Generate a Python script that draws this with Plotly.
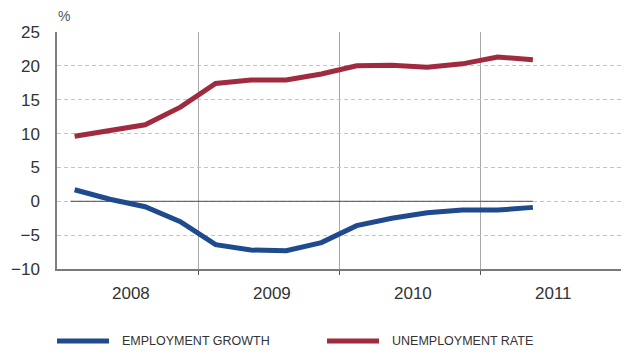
import plotly.graph_objects as go

# Quarterly series, 2008 Q1 – 2011 Q2 (%)
years = [2008, 2009, 2010, 2011]
quarters_per_year = 4
employment_growth = [1.7, 0.3, -0.8, -3.0, -6.4, -7.2, -7.3, -6.1,
                     -3.6, -2.5, -1.7, -1.3, -1.3, -0.9]
unemployment_rate = [9.6, 10.4, 11.3, 13.9, 17.4, 17.9, 17.9, 18.8,
                     20.0, 20.1, 19.8, 20.3, 21.3, 20.9]
series_names = ["EMPLOYMENT GROWTH", "UNEMPLOYMENT RATE"]
y_ticks = [-10, -5, 0, 5, 10, 15, 20, 25]

BLUE = "#1f4b8e"
RED = "#a02b3f"
TEXT = "#333333"

# quarter midpoints on a continuous year scale
n = len(employment_growth)
x_q = [years[0] + (i + 0.5) / quarters_per_year for i in range(n)]

fig = go.Figure()

# zero reference line across the data span
fig.add_trace(go.Scatter(x=[x_q[0] - 0.03, x_q[-1]], y=[0, 0], mode="lines",
                         line=dict(color="#4a4a4a", width=1),
                         hoverinfo="skip", showlegend=False))

fig.add_trace(go.Scatter(x=x_q, y=unemployment_rate, mode="lines",
                         name=series_names[1],
                         line=dict(color=RED, width=5), showlegend=False))
fig.add_trace(go.Scatter(x=x_q, y=employment_growth, mode="lines",
                         name=series_names[0],
                         line=dict(color=BLUE, width=5), showlegend=False))

fig.update_layout(
    width=621, height=353,
    margin=dict(l=57, r=0, t=32, b=84),
    paper_bgcolor="white", plot_bgcolor="white",
    font=dict(family="Liberation Sans, Arial, sans-serif", color=TEXT),
    showlegend=False,
)

fig.update_xaxes(
    range=[years[0], years[-1] + 1],
    tickvals=years[1:], showticklabels=False,
    ticks="outside", ticklen=4, tickcolor="#555555", tickwidth=1,
    showgrid=True, gridcolor="#a8a8a8", gridwidth=1,
    showline=True, linecolor="#7a7a7a", linewidth=2,
    zeroline=False, fixedrange=True,
)
fig.update_yaxes(
    range=[y_ticks[0], y_ticks[-1]],
    tickvals=y_ticks, ticks="", ticklabelstandoff=12,
    tickfont=dict(size=17, color=TEXT),
    showgrid=True, gridcolor="#c4c4c4", gridwidth=1, griddash="4px,3px",
    showline=True, linecolor="#7f7f7f", linewidth=1.5,
    zeroline=False, fixedrange=True,
)

# year labels centred under each year band
for yr in years:
    fig.add_annotation(x=yr + 0.5, y=0, xref="x", yref="paper",
                       text=str(yr), showarrow=False, xshift=3,
                       yanchor="top", yshift=-13,
                       font=dict(size=17, color=TEXT))

# unit label
fig.add_annotation(x=0, y=1, xref="paper", yref="paper", text="%",
                   showarrow=False, xanchor="left", yanchor="bottom",
                   xshift=-1, yshift=6, font=dict(size=14, color="#555555"))

# legend keys
legend_items = [(series_names[0], BLUE, 57), (series_names[1], RED, 327)]
for label, color, x0 in legend_items:
    fig.add_shape(type="line", xref="paper", yref="paper",
                  x0=(x0 - 57) / 564, x1=(x0 - 57 + 52) / 564,
                  y0=-(341 - 269) / 237, y1=-(341 - 269) / 237,
                  line=dict(color=color, width=5))
    fig.add_annotation(x=(x0 - 57 + 63) / 564, y=-(341 - 269) / 237,
                       xref="paper", yref="paper", text=label,
                       showarrow=False, xanchor="left", yanchor="middle",
                       font=dict(family="Liberation Sans Narrow, Liberation Sans, sans-serif",
                                 size=12.5, color=TEXT))

fig.write_html("out.html")
